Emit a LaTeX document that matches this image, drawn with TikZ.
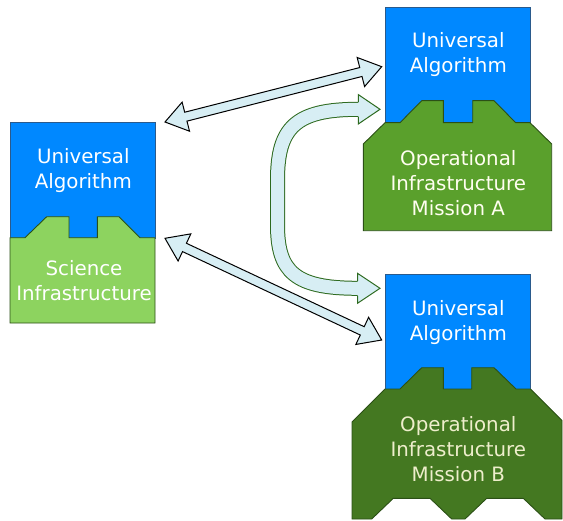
\documentclass[tikz,border=0pt]{standalone}
\usepackage{fontspec}
\setmainfont{DejaVu Sans}
\usetikzlibrary{calc}
\definecolor{ublue}{HTML}{0088FF}
\definecolor{ubluestroke}{HTML}{2A5A8C}
\definecolor{sgreen}{HTML}{8DD35F}
\definecolor{agreen}{HTML}{5AA02C}
\definecolor{bgreen}{HTML}{447821}
\definecolor{gstroke}{HTML}{2B5016}
\definecolor{arrfill}{HTML}{D7EEF4}
\definecolor{carrstroke}{HTML}{2D6A1F}
\definecolor{creamtxt}{HTML}{EEEECC}
\newcommand{\myblockarrow}[6]{%
  % #1 tip a, #2 tip b, #3 shaft half, #4 head half, #5 head length, #6 style
  \draw[#6] (#1)
   -- ($(#1)!#5!(#2)!#4!90:(#2)$)
   -- ($(#1)!#5!(#2)!#3!90:(#2)$)
   -- ($(#2)!#5!(#1)!#3!-90:(#1)$)
   -- ($(#2)!#5!(#1)!#4!-90:(#1)$)
   -- (#2)
   -- ($(#2)!#5!(#1)!#4!90:(#1)$)
   -- ($(#2)!#5!(#1)!#3!90:(#1)$)
   -- ($(#1)!#5!(#2)!#3!-90:(#2)$)
   -- ($(#1)!#5!(#2)!#4!-90:(#2)$)
   -- cycle;}
\begin{document}
\begin{tikzpicture}[x=1bp,y=-1bp,
  bluebox/.style={fill=ublue,draw=ubluestroke,line width=0.9bp},
  greenshape/.style={draw=gstroke,line width=0.9bp,line join=miter},
  lbl/.style={align=center,font=\fontsize{19.8bp}{25bp}\selectfont,inner sep=0pt},
  sarrow/.style={fill=arrfill,draw=black,line width=1bp,line join=miter},
]
\useasboundingbox (0,0) rectangle (563,521);

% ---- left block: science
\path[bluebox] (10,122.7) rectangle (155,238) coordinate (sciTR);
\path[greenshape,fill=sgreen] (10,237.7) -- (25,237.7) -- (46.7,216.7) -- (69,216.7) -- (69,237.7) -- (97.3,237.7) -- (97.3,216.7) -- (119,216.7) -- (140,237.7) -- (155,237.7) -- (155,323) -- (10,323) -- cycle;
\node[lbl,text=white] (sciUA) at (83.3,170.8) {\strut Universal\\\strut Algorithm};
\node[lbl,text=white] (sciInf) at (84,282.5) {\strut Science\\\strut Infrastructure};

% ---- block A
\path[bluebox] (385,7.3) rectangle (530,123);
\path[greenshape,fill=agreen] (363.3,144) -- (385,122.7) -- (400,122.7) -- (421.7,100.7) -- (443.3,100.7) -- (443.3,122.7) -- (472.7,122.7) -- (472.7,100.7) -- (494,100.7) -- (515.7,122.7) -- (530,122.7) -- (551.7,144) -- (551.7,230.7) -- (363.3,230.7) -- cycle;
\node[lbl,text=white] (aUA) at (458.3,55.5) {\strut Universal\\\strut Algorithm};
\node[lbl,text=white!94!yellow] (aInf) at (458.3,185.2) {\strut Operational\\\strut Infrastructure\\\strut Mission A};

% ---- block B
\path[bluebox] (385,274) rectangle (530.5,389.5);
\path[greenshape,fill=bgreen] (352,422) -- (385,389) -- (400,389) -- (421.7,367.7) -- (443.3,367.7) -- (443.3,389) -- (471.7,389) -- (471.7,367.7) -- (494,367.7) -- (516,389) -- (530.5,389) -- (562,420.5) -- (562,519) -- (545,519) -- (523.3,498.3) -- (486.7,498.3) -- (465,519) -- (451.7,519) -- (430,498.3) -- (393.3,498.3) -- (371.7,519) -- (352,519) -- cycle;
\node[lbl,text=white] (bUA) at (458.3,322.5) {\strut Universal\\\strut Algorithm};
\node[lbl,text=creamtxt] (bInf) at (458.3,451.9) {\strut Operational\\\strut Infrastructure\\\strut Mission B};

% ---- arrow end points
\coordinate (t1a) at (165,122);
\coordinate (t1b) at (381.7,66.7);
\coordinate (t2a) at (165,238.3);
\coordinate (t2b) at (381.7,340);
\coordinate (ctop) at (380,109.3);
\coordinate (cbot) at (380,288.3);
\coordinate (ctopb) at (358.3,109.3);
\coordinate (cbotb) at (357.5,288.3);

\myblockarrow{t1a}{t1b}{4.6bp}{15bp}{21.5bp}{sarrow}
\myblockarrow{t2a}{t2b}{4.6bp}{15bp}{21.5bp}{sarrow}

% ---- curved arrow
\draw[line width=1bp,draw=carrstroke,double=arrfill,double distance=13bp,line cap=butt]
  ($(ctopb)+(2,0)$) -- (ctopb) .. controls (295,109.3) and (277.5,128) .. (277.5,180)
  -- (277.5,225) .. controls (277.5,272) and (295,288.3) .. (cbotb) -- ($(cbotb)+(2,0)$);
\fill[arrfill] (ctop) -- ($(ctopb)+(0,-14.7)$) -- ($(ctopb)+(0,14.7)$) -- cycle;
\draw[carrstroke,line width=1bp,line join=miter] ($(ctopb)+(0,-7.5)$) -- ($(ctopb)+(0,-14.7)$) -- (ctop) -- ($(ctopb)+(0,14.7)$) -- ($(ctopb)+(0,7.5)$);
\fill[arrfill] (cbot) -- ($(cbotb)+(0,-15)$) -- ($(cbotb)+(0,15)$) -- cycle;
\draw[carrstroke,line width=1bp,line join=miter] ($(cbotb)+(0,-7.5)$) -- ($(cbotb)+(0,-15)$) -- (cbot) -- ($(cbotb)+(0,15)$) -- ($(cbotb)+(0,7.5)$);
\end{tikzpicture}
\end{document}
